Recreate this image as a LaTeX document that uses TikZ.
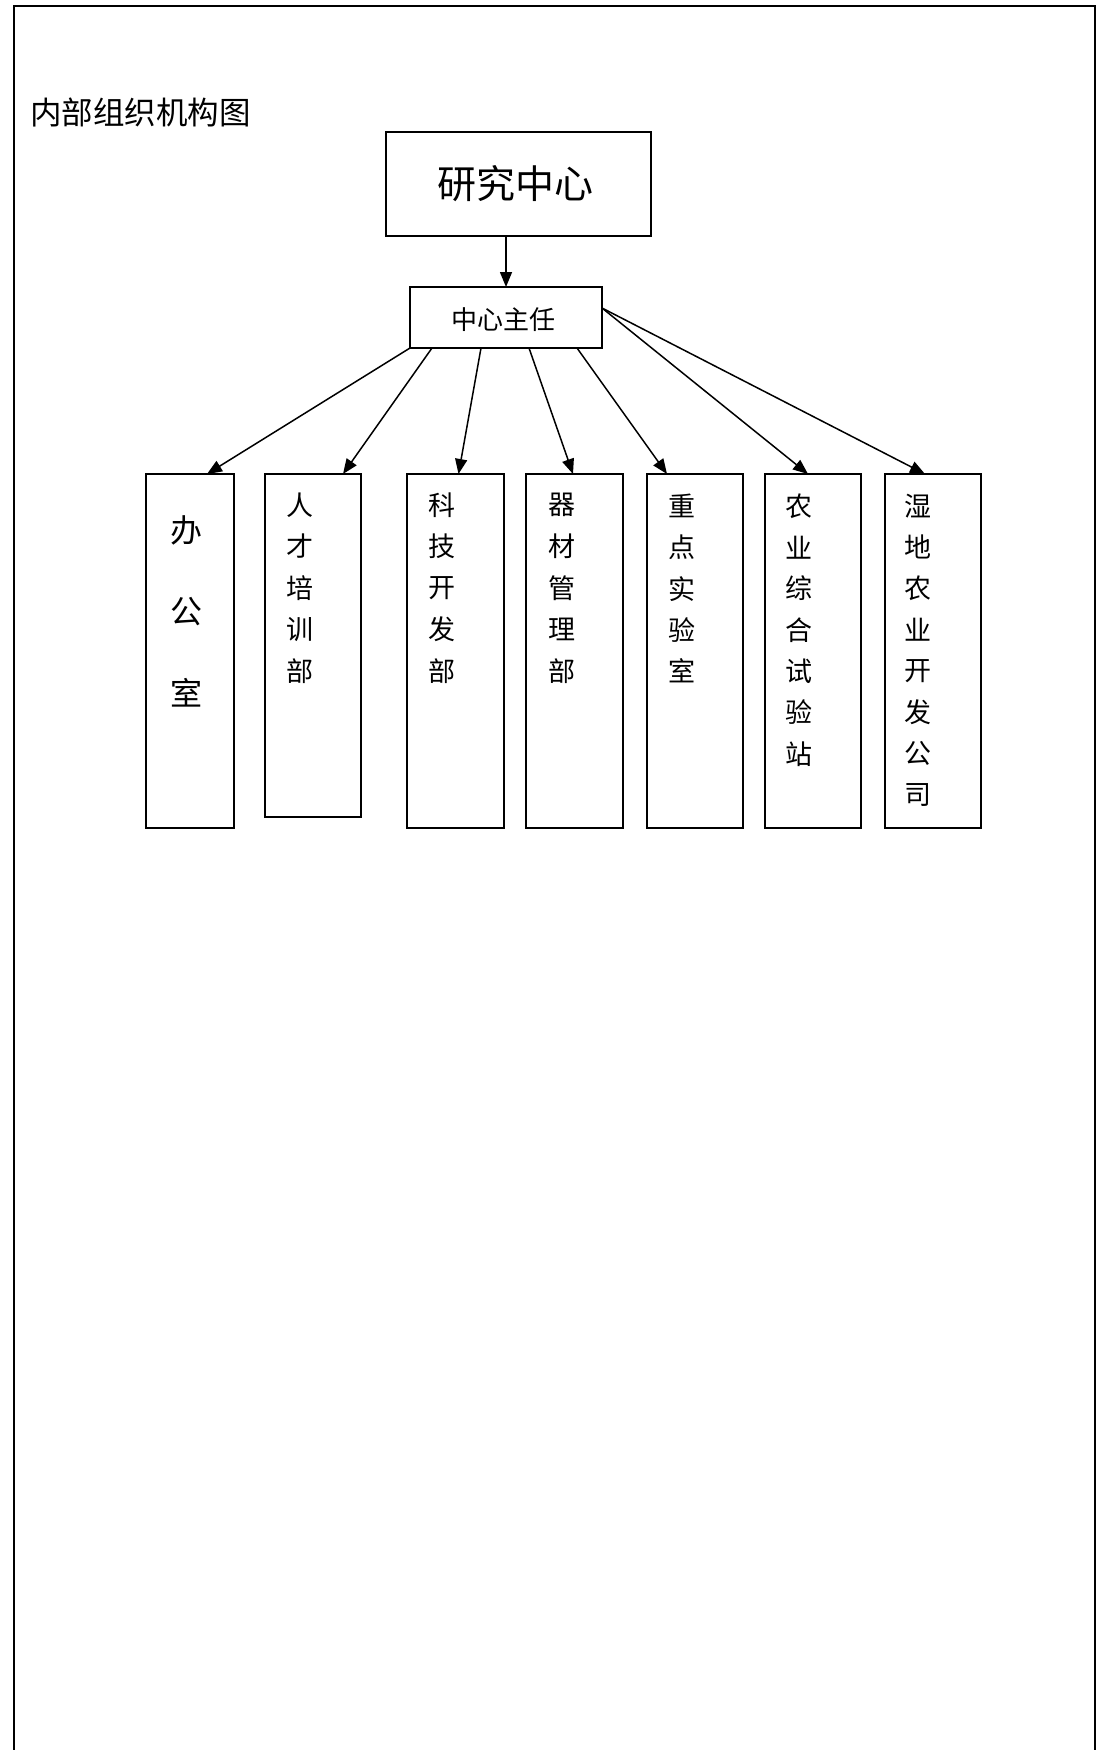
\documentclass[tikz,border=0pt]{standalone}
\usepackage{fontspec}
\setmainfont{Noto Sans CJK SC}
\newfontfamily\cjk{Noto Sans CJK SC}
\usetikzlibrary{arrows.meta,calc}

\begin{document}
\begin{tikzpicture}[x=1pt,y=-1pt,
  box/.style={draw,line width=1.7pt,inner sep=0pt,outer sep=0pt,anchor=north west},
  ch/.style={inner sep=0pt},
  small/.style={font=\cjk\fontsize{27}{27}\selectfont},
  link/.style={line width=1.5pt,-{Triangle[length=15pt,width=12pt]}}]

\useasboundingbox (0,0) rectangle (1099,1750);

% page frame (open at the bottom)
\draw[line width=1.7pt] (14,1750) -- (14,6) -- (1095,6) -- (1095,1750);

% heading
\node[ch,anchor=west,font=\cjk\fontsize{31.5}{31.5}\selectfont] (title) at (30,112) {内部组织机构图};

% top of the hierarchy
\node[box,minimum width=265pt,minimum height=104pt] (top) at (386,132) {};
\node[ch,font=\cjk\fontsize{39}{39}\selectfont] (toptext) at (515,184) {研究中心};
\node[box,minimum width=192pt,minimum height=61pt] (dir) at (410,287) {};
\node[ch,font=\cjk\fontsize{26}{26}\selectfont] (dirtext) at (503,320) {中心主任};

% departments
\node[box,minimum width=88pt,minimum height=354pt] (b1) at (146,474) {};
\node[box,minimum width=96pt,minimum height=343pt] (b2) at (265,474) {};
\node[box,minimum width=97pt,minimum height=354pt] (b3) at (407,474) {};
\node[box,minimum width=97pt,minimum height=354pt] (b4) at (526,474) {};
\node[box,minimum width=96pt,minimum height=354pt] (b5) at (647,474) {};
\node[box,minimum width=96pt,minimum height=354pt] (b6) at (765,474) {};
\node[box,minimum width=96pt,minimum height=354pt] (b7) at (885,474) {};

% vertical department names
\foreach \c [count=\i] in {办,公,室}
  \node[ch,font=\cjk\fontsize{32}{32}\selectfont] (b1c\i) at (186,{530+81.5*(\i-1)}) {\c};
\foreach \c [count=\i] in {人,才,培,训,部}
  \node[ch,small] (b2c\i) at (300,{505+41.5*(\i-1)}) {\c};
\foreach \c [count=\i] in {科,技,开,发,部}
  \node[ch,small] (b3c\i) at (442,{505+41.5*(\i-1)}) {\c};
\foreach \c [count=\i] in {器,材,管,理,部}
  \node[ch,small] (b4c\i) at (562,{505+41.5*(\i-1)}) {\c};
\foreach \c [count=\i] in {重,点,实,验,室}
  \node[ch,small] (b5c\i) at (682,{506+41.3*(\i-1)}) {\c};
\foreach \c [count=\i] in {农,业,综,合,试,验,站}
  \node[ch,small] (b6c\i) at (799,{506+41.3*(\i-1)}) {\c};
\foreach \c [count=\i] in {湿,地,农,业,开,发,公,司}
  \node[ch,small] (b7c\i) at (918,{506+41.3*(\i-1)}) {\c};

% connectors
\draw[link] (top.south -| dir.north) -- (dir.north);
\draw[link] (dir.south west) -- ([xshift=17pt]b1.north);
\draw[link] ([xshift=22pt]dir.south west) -- ([xshift=30pt]b2.north);
\draw[link] ([xshift=71pt]dir.south west) -- ([xshift=3pt]b3.north);
\draw[link] ([xshift=119pt]dir.south west) -- ([xshift=-1.5pt]b4.north);
\draw[link] ([xshift=167pt]dir.south west) -- ([xshift=-28pt]b5.north);
\draw[link] ([yshift=9.5pt]dir.east) -- ([xshift=-5pt]b6.north);
\draw[link] ([yshift=9.5pt]dir.east) -- ([xshift=-8pt]b7.north);
\end{tikzpicture}
\end{document}
